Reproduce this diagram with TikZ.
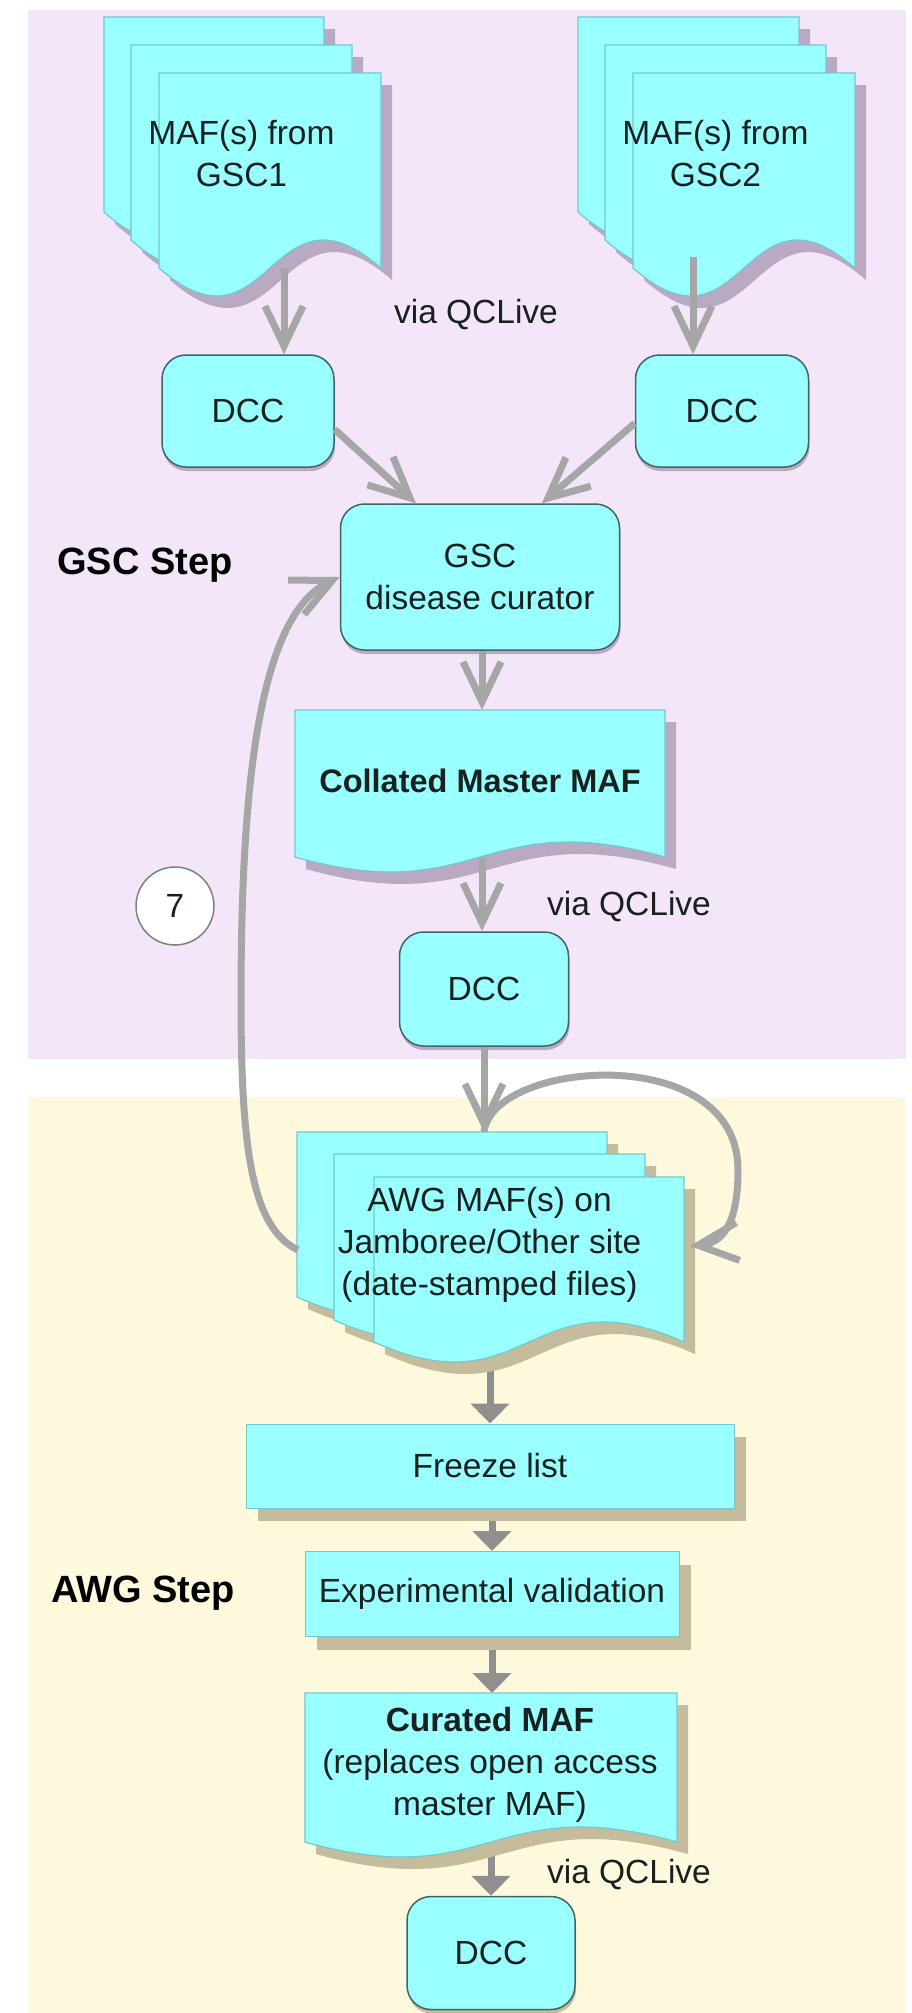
\documentclass[tikz,border=0pt]{standalone}
\usepackage{fontspec}
\setmainfont{Liberation Sans}
\usetikzlibrary{arrows.meta,shadows}

\definecolor{bgpurple}{RGB}{243,230,249}
\definecolor{bgyellow}{RGB}{254,249,221}
\definecolor{cyanfill}{RGB}{153,255,255}
\definecolor{docedge}{RGB}{115,200,205}
\definecolor{boxedge}{RGB}{65,100,100}
\definecolor{shpurple}{RGB}{185,169,194}
\definecolor{shyellow}{RGB}{196,188,157}
\definecolor{linkgray}{RGB}{166,166,166}
\definecolor{tipgray}{RGB}{143,143,143}
\definecolor{inkcol}{RGB}{25,32,32}

\pgfdeclarelayer{backdrop}
\pgfdeclarelayer{links}
\pgfsetlayers{backdrop,links,main}

% one sheet of a document symbol: x0, y0 (top), x1, wave middle, wave amplitude, shadow colour
\newcommand\sheet[6]{%
  \fill[#6] ({#1+11},{#2+12}) -- ({#3+11},{#2+12}) -- ({#3+11},{#4+12})
    .. controls ({(#1+#3)/2+11},{#4+12-3.46*#5}) and ({(#1+#3)/2+11},{#4+12+3.46*#5}) .. ({#1+11},{#4+12}) -- cycle;
  \path[sheetface] (#1,#2) -- (#3,#2) -- (#3,#4)
    .. controls ({(#1+#3)/2},{#4-3.46*#5}) and ({(#1+#3)/2},{#4+3.46*#5}) .. (#1,#4) -- cycle;
}

\begin{document}
\begin{tikzpicture}[x=1pt,y=-1pt,
  txt/.style={text=inkcol, font=\fontsize{33.5}{42}\selectfont, align=center, inner sep=0pt},
  boldtxt/.style={txt, font=\bfseries\fontsize{32.5}{42}\selectfont},
  steplabel/.style={text=black, font=\bfseries\fontsize{38}{46}\selectfont, inner sep=0pt},
  sheetface/.style={fill=cyanfill, draw=docedge, line width=1.2pt},
  dccbox/.style={txt, draw=boxedge, line width=1.5pt, fill=cyanfill, rounded corners=24pt,
    drop shadow={shadow xshift=1pt, shadow yshift=-4pt, fill=#1, opacity=1}},
  dccbox/.default=shpurple,
  rectbox/.style={txt, draw=docedge, line width=1pt, fill=cyanfill,
    drop shadow={shadow xshift=12pt, shadow yshift=-13pt, fill=shyellow, opacity=1}},
  varrow/.style={draw=linkgray, line width=7pt, -{Straight Barb[length=40pt,width=38pt]}},
  tarrow/.style={draw=tipgray, line width=7pt, -{Triangle[length=20pt,width=38pt]}},
  numcircle/.style={txt, circle, draw=gray, fill=white, line width=1.5pt, minimum size=78pt}
]
\useasboundingbox (0,0) rectangle (911,2013);

% stage backgrounds
\begin{pgfonlayer}{backdrop}
  \fill[bgpurple] (28,10) rectangle (906,1059);
  \fill[bgyellow] (28,1097) rectangle (906,2013);
\end{pgfonlayer}

% MAF stacks from the two sequencing centres
\sheet{104}{17}{324}{212}{28}{shpurple}
\sheet{131}{45}{352}{240}{28}{shpurple}
\sheet{159}{73}{381}{268}{28}{shpurple}
\sheet{578}{17}{799}{212}{28}{shpurple}
\sheet{605}{45}{826}{240}{28}{shpurple}
\sheet{633}{73}{855}{268}{28}{shpurple}
\node[txt] (g1text) at (241.5,154) {MAF(s) from\\GSC1};
\node[txt] (g2text) at (715.5,154) {MAF(s) from\\GSC2};

% collated master MAF
\sheet{295}{710}{665}{857}{15}{shpurple}
\node[boldtxt] (colltext) at (480,781) {Collated Master MAF};

% AWG MAF stack
\sheet{297}{1132}{607}{1297}{20}{shyellow}
\sheet{334}{1154}{645}{1320}{20}{shyellow}
\sheet{374}{1177}{684}{1342}{20}{shyellow}
\node[txt] (awgtext) at (489.5,1245) {AWG MAF(s) on\\Jamboree/Other site\\(date-stamped files)};

% curated MAF
\sheet{305}{1693}{677}{1842}{15}{shyellow}
\node[txt] (curtext) at (490,1765) {\textbf{Curated MAF}\\(replaces open access\\master MAF)};

% process boxes
\node[dccbox, minimum width=172pt, minimum height=112pt] (dcc1) at (248,411) {DCC};
\node[dccbox, minimum width=173pt, minimum height=112pt] (dcc2) at (722,411) {DCC};
\node[dccbox, minimum width=279pt, minimum height=146pt] (cur) at (480,577) {GSC\\disease curator};
\node[dccbox, minimum width=169pt, minimum height=114pt] (dcc3) at (484,989) {DCC};
\node[dccbox=shyellow, minimum width=168pt, minimum height=113pt] (dcc4) at (491,1953) {DCC};
\node[rectbox, minimum width=488pt, minimum height=84pt] (freeze) at (490,1466) {Freeze list};
\node[rectbox, minimum width=374pt, minimum height=85pt] (exper) at (492,1594) {Experimental validation};

% labels
\node[txt] (via1) at (476,315) {via QCLive};
\node[txt] (via2) at (629,907) {via QCLive};
\node[txt] (via3) at (629,1875) {via QCLive};
\node[steplabel] (gscstep) at (145,565) {GSC Step};
\node[steplabel] (awgstep) at (143,1593) {AWG Step};
\node[numcircle] (seven) at (175,906) {7};

% connector end points on the document symbols
\coordinate (g1out) at (284,268);
\coordinate (g2out) at (693,257);
\coordinate (collin) at (482,710);
\coordinate (collout) at (482,858);
\coordinate (awgin) at (484,1132);
\coordinate (awgleft) at (298,1250);
\coordinate (awgright) at (690,1246);
\coordinate (curtop) at (492,1693);

% GSC stage flow
\draw[varrow] (g1out) -- (g1out |- dcc1.north);
\draw[varrow] (g2out) -- (g2out |- dcc2.north);
\draw[varrow] (dcc1.-12) -- (cur.131);
\draw[varrow] (dcc2.188) -- (cur.50);
\draw[varrow] (cur.south -| collin) -- (collin);
\draw[varrow] (collout) -- (collout |- dcc3.north);
\draw[varrow] (dcc3.south) -- (awgin);

% feedback to the curator and revision loop
\draw[varrow] (awgleft) .. controls (252,1228) and (241,1150) .. (241,1000)
  .. controls (241,790) and (258,615) .. (cur.west);
\draw[varrow] (awgin) .. controls (492,1060) and (738,1040) .. (738,1170)
  .. controls (738,1225) and (722,1243) .. (awgright);

% AWG stage flow
\begin{pgfonlayer}{links}
  \draw[tarrow] (awgtext.south -| freeze.north) -- (freeze.north);
  \draw[tarrow] (freeze.south -| exper.north) -- (exper.north);
  \draw[tarrow] (exper.south) -- (curtop);
  \draw[tarrow] (curtext.south -| dcc4.north) -- (dcc4.north);
\end{pgfonlayer}
\end{tikzpicture}
\end{document}
